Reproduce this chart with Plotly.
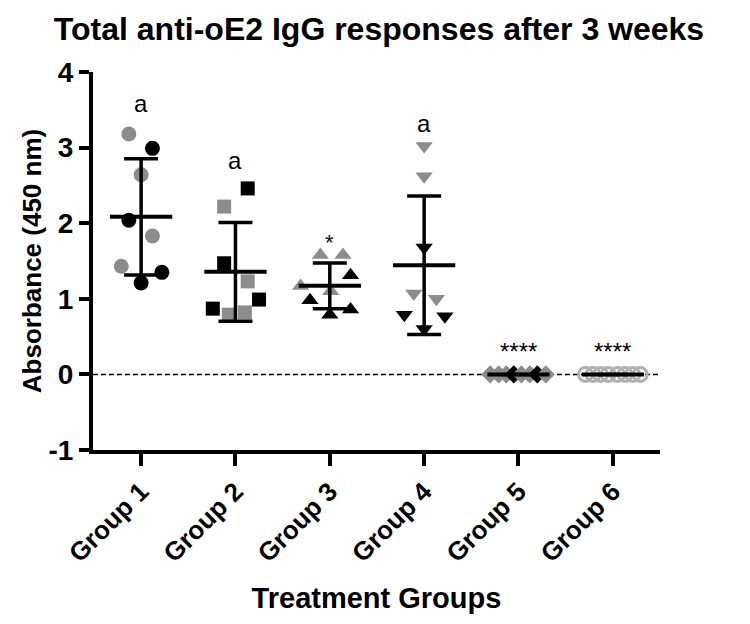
import plotly.graph_objects as go

# ---------------- data ----------------
groups = [1, 2, 3, 4, 5, 6]
group_labels = ["Group 1", "Group 2", "Group 3", "Group 4", "Group 5", "Group 6"]

g1_vals = [3.18, 2.99, 2.64, 2.04, 1.83, 1.43, 1.35, 1.21]
g1_shade = ["gray", "black", "gray", "black", "gray", "gray", "black", "black"]

g2_vals = [2.46, 2.22, 1.47, 1.23, 0.99, 0.87, 0.79, 0.82]
g2_shade = ["black", "gray", "black", "gray", "black", "black", "gray", "gray"]

g3_vals = [1.58, 1.58, 1.31, 1.17, 1.10, 0.98, 0.79, 0.86]
g3_shade = ["gray", "gray", "black", "gray", "gray", "black", "black", "black"]

g4_vals = [3.02, 2.62, 1.68, 1.07, 1.00, 0.79, 0.77, 0.60]
g4_shade = ["gray", "gray", "black", "gray", "gray", "black", "black", "black"]

g5_vals = [0.0, 0.0, 0.0, 0.0, 0.0, 0.0, 0.0, 0.0]
g5_shade = ["gray", "gray", "gray", "black", "gray", "gray", "black", "gray"]

g6_vals = [0.0, 0.0, 0.0, 0.0, 0.0, 0.0, 0.0, 0.0]
g6_shade = ["light"] * 8

annot_text = ["a", "a", "*", "a", "****", "****"]

# ---------------- layout helpers (scatter spread, in x units) ----------------
spread = {
    1: [-0.13, 0.12, 0.0, -0.13, 0.12, -0.21, 0.22, 0.0],
    2: [0.13, -0.12, -0.12, 0.13, 0.25, -0.24, -0.07, 0.10],
    3: [-0.10, 0.14, 0.22, -0.31, 0.01, -0.21, 0.0, 0.22],
    4: [0.0, 0.0, 0.0, -0.11, 0.13, -0.21, 0.22, 0.0],
    5: [-0.30, -0.21, -0.13, -0.05, 0.03, 0.12, 0.20, 0.29],
    6: [-0.29, -0.21, -0.13, -0.05, 0.05, 0.13, 0.21, 0.29],
}
symbols = {1: "circle", 2: "square", 3: "triangle-up", 4: "triangle-down",
           5: "diamond", 6: "circle-open"}
sizes = {1: 15, 2: 14, 3: 15, 4: 15, 5: 14, 6: 14}
shade_col = {"gray": "#8c8c8c", "black": "#000000", "light": "#b0b0b0"}
annot_y = [3.58, 2.83, 1.74, 3.32, 0.30, 0.30]
annot_size = [24, 24, 22, 24, 24, 24]

all_vals = [g1_vals, g2_vals, g3_vals, g4_vals, g5_vals, g6_vals]
all_shade = [g1_shade, g2_shade, g3_shade, g4_shade, g5_shade, g6_shade]

fig = go.Figure()

# zero dashed reference line
fig.add_shape(type="line", xref="paper", x0=0, x1=1, yref="y", y0=0, y1=0,
              line=dict(color="black", width=1.5, dash="5px,3px"), layer="below")

means, sds = [], []
for g, vals, shade in zip(groups, all_vals, all_shade):
    xs = [g + o for o in spread[g]]
    cols = [shade_col[s] for s in shade]
    if symbols[g] == "circle-open":
        marker = dict(symbol=symbols[g], size=sizes[g], color=cols,
                      line=dict(color=cols, width=3))
    else:
        marker = dict(symbol=symbols[g], size=sizes[g], color=cols,
                      line=dict(width=0))
    fig.add_trace(go.Scatter(x=xs, y=vals, mode="markers", marker=marker,
                             showlegend=False, hoverinfo="y"))
    n = len(vals)
    m = sum(vals) / n
    sd = (sum((v - m) ** 2 for v in vals) / (n - 1)) ** 0.5
    means.append(m)
    sds.append(sd)

# SD error bars
fig.add_trace(go.Scatter(
    x=groups, y=means, mode="markers",
    marker=dict(size=1, color="rgba(0,0,0,0)"),
    error_y=dict(type="data", array=sds, visible=True, thickness=3.5,
                 width=17, color="black"),
    showlegend=False, hoverinfo="skip"))

# mean lines
mx, my = [], []
for g, m in zip(groups, means):
    mx += [g - 0.33, g + 0.33, None]
    my += [m, m, None]
fig.add_trace(go.Scatter(x=mx, y=my, mode="lines",
                         line=dict(color="black", width=4),
                         showlegend=False, hoverinfo="skip"))

for g, t, y, s in zip(groups, annot_text, annot_y, annot_size):
    fig.add_annotation(x=g, y=y, text=t, showarrow=False,
                       font=dict(family="Liberation Sans, Arial", size=s, color="black"),
                       xanchor="center", yanchor="middle")

fig.update_layout(
    width=742, height=616,
    margin=dict(l=85, r=90, t=64, b=174),
    paper_bgcolor="white", plot_bgcolor="white",
    font=dict(family="Liberation Sans, Arial", color="black"),
    title=dict(text="<b>Total anti-oE2 IgG responses after 3 weeks</b>",
               x=0.5, xanchor="center", y=0.966, yanchor="middle",
               font=dict(size=32, color="black")),
    xaxis=dict(range=[0.49, 6.5], tickvals=groups,
               ticktext=["<b>%s</b>" % t for t in group_labels],
               tickangle=-45, tickfont=dict(size=26),
               showline=True, linewidth=4, linecolor="black",
               ticks="outside", ticklen=12, tickwidth=4, tickcolor="black",
               showgrid=False, zeroline=False, automargin=False,
               title=dict(text="<b>Treatment Groups</b>", font=dict(size=29), standoff=22)),
    yaxis=dict(range=[-1, 4], tickvals=[-1, 0, 1, 2, 3, 4],
               ticktext=["<b>-1</b>", "<b>0</b>", "<b>1</b>", "<b>2</b>", "<b>3</b>", "<b>4</b>"],
               tickfont=dict(size=28),
               showline=True, linewidth=4, linecolor="black",
               ticks="outside", ticklen=10, tickwidth=4, tickcolor="black",
               showgrid=False, zeroline=False, automargin=False,
               title=dict(text="<b>Absorbance (450 nm)</b>", font=dict(size=26), standoff=0)),
)

fig.write_html("out.html")
